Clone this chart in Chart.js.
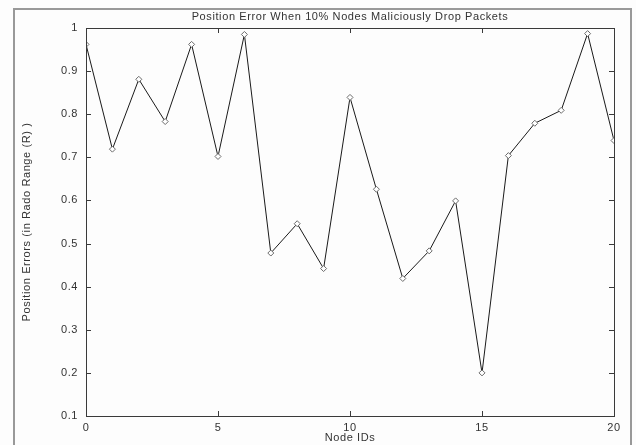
<!DOCTYPE html>
<html>
<head>
<meta charset="utf-8">
<script src="https://cdn.jsdelivr.net/npm/chart.js@4"></script>
<style>
  html, body { margin: 0; padding: 0; background: #fdfdfd; }
  #wrap { width: 636px; height: 445px; }
</style>
</head>
<body>
<div id="wrap"><canvas id="chart" width="636" height="445"></canvas></div>
<script>
// node ids and position error (in radio range R)
const nodeIds = [0, 1, 2, 3, 4, 5, 6, 7, 8, 9, 10, 11, 12, 13, 14, 15, 16, 17, 18, 19, 20];
const posErrors = [0.962, 0.719, 0.881, 0.783, 0.962, 0.702, 0.985, 0.478, 0.546, 0.442, 0.839,
                   0.626, 0.419, 0.483, 0.599, 0.200, 0.704, 0.779, 0.809, 0.987, 0.739];
const xTicks = [0, 5, 10, 15, 20];
const yTicks = [0.1, 0.2, 0.3, 0.4, 0.5, 0.6, 0.7, 0.8, 0.9, 1];

const FONT = "'Liberation Sans', Arial, sans-serif";
const TEXT = '#333333';
const AXIS = '#3a3a3a';

// MATLAB-ish box with inward ticks on all four sides + the gray figure frame
const boxPlugin = {
  id: 'matlabBox',
  beforeLayout: (chart) => {
    chart.ctx.letterSpacing = '0.6px';
  },
  afterDraw: (chart) => {
    const ctx = chart.ctx;
    const { left, right, top, bottom } = chart.chartArea;
    const xs = chart.scales.x, ys = chart.scales.y;
    const len = 5;
    ctx.save();
    // figure frame
    ctx.strokeStyle = '#999999';
    ctx.lineWidth = 2;
    ctx.beginPath();
    ctx.moveTo(14, 445);
    ctx.lineTo(14, 9);
    ctx.lineTo(631, 9);
    ctx.lineTo(631, 445);
    ctx.stroke();
    // axes box
    ctx.lineWidth = 1;
    ctx.strokeStyle = AXIS;
    ctx.strokeRect(Math.round(left) + 0.5, Math.round(top) + 0.5,
                   Math.round(right - left), Math.round(bottom - top));
    ctx.beginPath();
    xTicks.forEach(v => {
      const px = Math.round(xs.getPixelForValue(v)) + 0.5;
      ctx.moveTo(px, bottom); ctx.lineTo(px, bottom - len);
      ctx.moveTo(px, top); ctx.lineTo(px, top + len);
    });
    yTicks.forEach(v => {
      const py = Math.round(ys.getPixelForValue(v)) + 0.5;
      ctx.moveTo(left, py); ctx.lineTo(left + len, py);
      ctx.moveTo(right, py); ctx.lineTo(right - len, py);
    });
    ctx.stroke();
    ctx.restore();
  }
};

new Chart(document.getElementById('chart'), {
  type: 'line',
  data: {
    datasets: [{
      label: 'Position Error',
      data: nodeIds.map((id, i) => ({ x: id, y: posErrors[i] })),
      borderColor: '#1a1a1a',
      borderWidth: 1,
      tension: 0,
      fill: false,
      pointStyle: 'rectRot',
      pointRadius: 3,
      pointBorderColor: '#6a6a6a',
      pointBackgroundColor: '#ffffff',
      pointBorderWidth: 1
    }]
  },
  options: {
    responsive: false,
    animation: false,
    devicePixelRatio: 1,
    layout: { padding: { left: 0, right: 22, top: 0, bottom: 0 } },
    scales: {
      x: {
        type: 'linear',
        min: 0,
        max: 20,
        afterFit: (scale) => { scale.height = 29; },
        afterBuildTicks: (scale) => { scale.ticks = xTicks.map(v => ({ value: v })); },
        grid: { display: false, drawTicks: false },
        border: { display: false },
        ticks: { padding: 5, color: TEXT, font: { family: FONT, size: 11 }, maxRotation: 0 },
        title: {
          display: true,
          text: 'Node IDs',
          color: TEXT,
          font: { family: FONT, size: 11 },
          padding: { top: 0, bottom: 0 }
        }
      },
      y: {
        min: 0.1,
        max: 1,
        afterFit: (scale) => { scale.width = 86; },
        afterBuildTicks: (scale) => { scale.ticks = yTicks.map(v => ({ value: v })); },
        grid: { display: false, drawTicks: false },
        border: { display: false },
        ticks: {
          padding: 8,
          color: TEXT,
          font: { family: FONT, size: 11 },
          callback: (v) => String(Number(v.toFixed(1)))
        },
        title: {
          display: true,
          text: 'Position Errors (in Rado Range (R) )',
          color: TEXT,
          font: { family: FONT, size: 11 },
          padding: { top: 20, bottom: 0 }
        }
      }
    },
    plugins: {
      legend: { display: false },
      tooltip: { enabled: false },
      title: {
        display: true,
        fullSize: false,
        text: 'Position Error When 10% Nodes Maliciously Drop Packets',
        color: TEXT,
        font: { family: FONT, size: 11, weight: 'normal' },
        padding: { top: 10, bottom: 4.8 }
      }
    }
  },
  plugins: [boxPlugin]
});
</script>
</body>
</html>
